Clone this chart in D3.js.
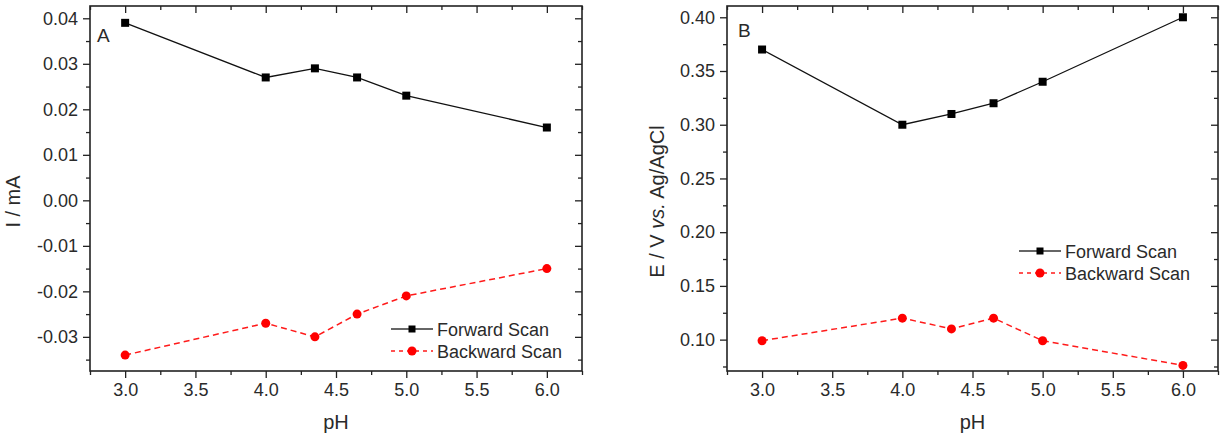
<!DOCTYPE html>
<html>
<head>
<meta charset="utf-8">
<script src="https://cdn.jsdelivr.net/npm/d3@7"></script>
<style>
  html, body { margin: 0; padding: 0; background: #fff; }
  svg { display: block; font-family: "Liberation Sans", Arial, sans-serif; }
  text { fill: #2a2a2a; }
</style>
</head>
<body>
<svg id="chart" width="1230" height="435"></svg>
<script>
// ---- data ----
const pH = [3.0, 4.0, 4.35, 4.65, 5.0, 6.0];
const forwardCurrent = [0.039, 0.027, 0.029, 0.027, 0.023, 0.016];
const backwardCurrent = [-0.034, -0.027, -0.030, -0.025, -0.021, -0.015];
const forwardPotential = [0.370, 0.300, 0.310, 0.320, 0.340, 0.400];
const backwardPotential = [0.099, 0.120, 0.110, 0.120, 0.099, 0.076];
const xTicks = [3.0, 3.5, 4.0, 4.5, 5.0, 5.5, 6.0];
const yTicksA = [-0.03, -0.02, -0.01, 0.00, 0.01, 0.02, 0.03, 0.04];
const yTicksB = [0.10, 0.15, 0.20, 0.25, 0.30, 0.35, 0.40];
const seriesNames = ["Forward Scan", "Backward Scan"];

const svg = d3.select("#chart");
const FONT = 18;
const fmt2 = v => d3.format(".2f")(v).replace("\u2212", "-");

function panel(opts) {
  const {left, right, top, bottom, xDomain, yDomain, yTicks, yMinorStep, yFmt,
         fwd, bwd, letter, letterPos, legendPos, yLabel, yLabelX} = opts;
  const x = d3.scaleLinear().domain(xDomain).range([left, right]);
  const y = d3.scaleLinear().domain(yDomain).range([bottom, top]);
  const g = svg.append("g");

  // minor ticks
  const xMinor = d3.range(2.75, 6.26, 0.25).filter(v => !xTicks.some(t => Math.abs(t - v) < 1e-6));
  const yMinor = yTicks.map(t => t + yMinorStep).concat([yTicks[0] - yMinorStep])
     .filter(v => v > yDomain[0] && v < yDomain[1]);

  const frame = g.append("g").attr("stroke", "#222").attr("fill", "none");
  // bottom axis
  g.append("g").attr("transform", `translate(0,${bottom})`)
    .call(d3.axisBottom(x).tickValues(xTicks).tickFormat(d3.format(".1f")).tickSize(7).tickPadding(5));
  g.append("g").attr("transform", `translate(0,${bottom})`)
    .call(d3.axisBottom(x).tickValues(xMinor).tickFormat("").tickSize(4));
  // top axis (inward)
  g.append("g").attr("transform", `translate(0,${top})`)
    .call(d3.axisBottom(x).tickValues(xTicks).tickFormat("").tickSize(7));
  g.append("g").attr("transform", `translate(0,${top})`)
    .call(d3.axisBottom(x).tickValues(xMinor).tickFormat("").tickSize(4));
  // left axis
  g.append("g").attr("transform", `translate(${left},0)`)
    .call(d3.axisLeft(y).tickValues(yTicks).tickFormat(yFmt).tickSize(7).tickPadding(5));
  g.append("g").attr("transform", `translate(${left},0)`)
    .call(d3.axisLeft(y).tickValues(yMinor).tickFormat("").tickSize(4));
  // right axis (inward)
  g.append("g").attr("transform", `translate(${right},0)`)
    .call(d3.axisLeft(y).tickValues(yTicks).tickFormat("").tickSize(7));
  g.append("g").attr("transform", `translate(${right},0)`)
    .call(d3.axisLeft(y).tickValues(yMinor).tickFormat("").tickSize(4));

  g.selectAll(".domain").remove();
  g.selectAll(".tick line").attr("stroke", "#222").attr("stroke-width", 1.3);
  g.selectAll(".tick text").attr("font-size", FONT).attr("fill", "#2a2a2a")
    .attr("font-family", '"Liberation Sans", Arial, sans-serif');

  frame.append("rect").attr("x", left).attr("y", top)
    .attr("width", right - left).attr("height", bottom - top).attr("stroke-width", 1.6);

  // lines
  const data = pH.map((p, i) => ({p, f: fwd[i], b: bwd[i]}));
  const lf = d3.line().x(d => x(d.p)).y(d => y(d.f));
  const lb = d3.line().x(d => x(d.p)).y(d => y(d.b));
  g.append("path").datum(data).attr("d", lf).attr("fill", "none")
    .attr("stroke", "#111").attr("stroke-width", 1.3);
  g.append("path").datum(data).attr("d", lb).attr("fill", "none")
    .attr("stroke", "#ff1a1a").attr("stroke-width", 1.5).attr("stroke-dasharray", "6,4");
  g.selectAll(".sq").data(data).enter().append("rect")
    .attr("x", d => x(d.p) - 4).attr("y", d => y(d.f) - 4)
    .attr("width", 8).attr("height", 8).attr("fill", "#000");
  g.selectAll(".ci").data(data).enter().append("circle")
    .attr("cx", d => x(d.p)).attr("cy", d => y(d.b)).attr("r", 4.5).attr("fill", "#ff0000");

  // panel letter
  g.append("text").attr("x", letterPos[0]).attr("y", letterPos[1])
    .attr("font-size", 19).text(letter);

  // legend
  const [lx, ly] = legendPos;
  const lg = g.append("g");
  lg.append("line").attr("x1", lx).attr("x2", lx + 42).attr("y1", ly).attr("y2", ly)
    .attr("stroke", "#333").attr("stroke-width", 1.5);
  lg.append("rect").attr("x", lx + 21 - 3.5).attr("y", ly - 3.5).attr("width", 7).attr("height", 7).attr("fill", "#000");
  lg.append("text").attr("x", lx + 46).attr("y", ly + 6.5).attr("font-size", FONT).text(seriesNames[0]);
  const ly2 = ly + 22;
  lg.append("line").attr("x1", lx).attr("x2", lx + 42).attr("y1", ly2).attr("y2", ly2)
    .attr("stroke", "#ff1a1a").attr("stroke-width", 1.3).attr("stroke-dasharray", "4,4");
  lg.append("circle").attr("cx", lx + 21).attr("cy", ly2).attr("r", 4.5).attr("fill", "#ff0000");
  lg.append("text").attr("x", lx + 46).attr("y", ly2 + 6.5).attr("font-size", FONT).text(seriesNames[1]);

  // x label
  g.append("text").attr("x", (left + right) / 2).attr("y", 429)
    .attr("text-anchor", "middle").attr("font-size", 20).text("pH");

  // y label
  const yl = g.append("text").attr("transform", `translate(${yLabelX},${(top + bottom) / 2 + 13}) rotate(-90)`)
    .attr("text-anchor", "middle").attr("font-size", 20);
  yLabel(yl);
}

panel({
  left: 90, right: 582, top: 6, bottom: 371,
  xDomain: [2.75, 6.25], yDomain: [-0.0375, 0.0427],
  yTicks: yTicksA, yMinorStep: 0.005, yFmt: fmt2,
  fwd: forwardCurrent, bwd: backwardCurrent,
  letter: "A", letterPos: [97, 42],
  legendPos: [391, 329],
  yLabel: t => t.text("I / mA"),
  yLabelX: 20
});

panel({
  left: 727, right: 1218, top: 6, bottom: 371,
  xDomain: [2.75, 6.25], yDomain: [0.0708, 0.4105],
  yTicks: yTicksB, yMinorStep: 0.025, yFmt: fmt2,
  fwd: forwardPotential, bwd: backwardPotential,
  letter: "B", letterPos: [738, 37],
  legendPos: [1019, 251],
  yLabel: t => {
    t.append("tspan").text("E / V ");
    t.append("tspan").attr("font-style", "italic").text("vs.");
    t.append("tspan").text(" Ag/AgCl");
  },
  yLabelX: 664
});
</script>
</body>
</html>
